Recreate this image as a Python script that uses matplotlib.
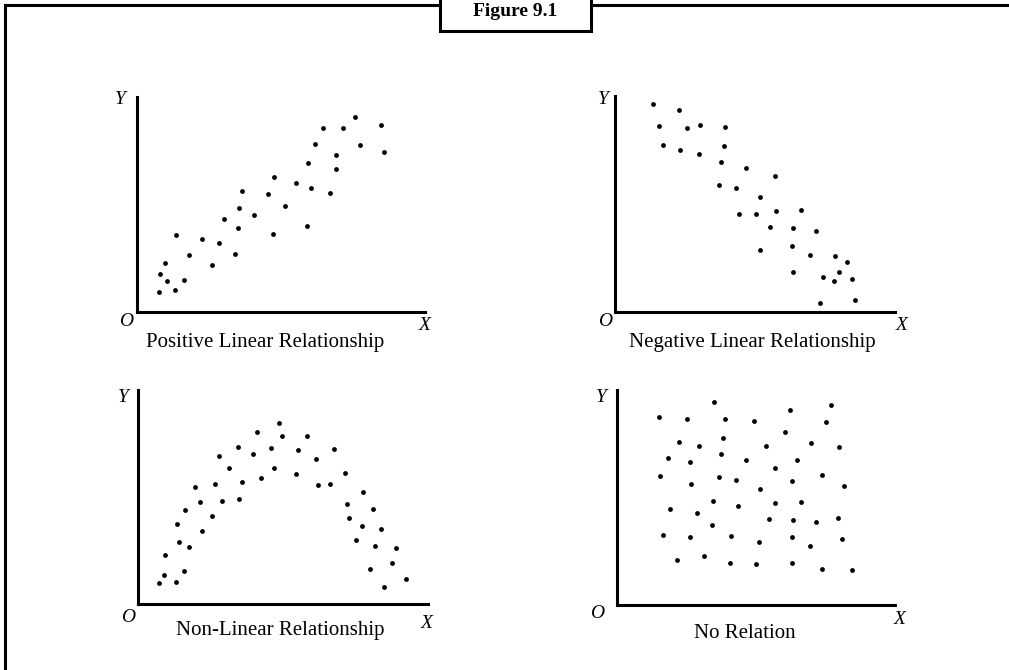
import matplotlib.pyplot as plt
from matplotlib.patches import Rectangle

# ---------------- data (units = px from each origin) ----------------
pos_x = [22.3, 38.7, 30.7, 23.0, 47.0, 28.7, 39.7, 52.7, 65.0, 75.7, 82.0, 87.3, 98.7, 101.3,
         102.3, 105.0, 117.7, 131.7, 136.3, 137.0, 148.7, 159.3, 170.7, 171.7, 174.7, 178.3,
         186.0, 193.7, 199.7, 199.7, 206.0, 218.7, 223.3, 244.3, 247.3]
pos_y = [20.3, 22.0, 31.3, 38.0, 32.7, 49.0, 77.7, 57.3, 73.3, 47.7, 69.7, 93.0, 58.3, 84.3,
         104.3, 121.7, 97.0, 118.7, 78.3, 135.3, 106.0, 129.7, 86.3, 149.3, 124.0, 168.3,
         184.0, 119.3, 143.7, 157.0, 184.0, 195.3, 167.7, 187.3, 160.3]

neg_x = [38.3, 64.3, 44.0, 71.7, 84.7, 109.7, 47.7, 64.7, 84.3, 108.7, 106.0, 131.0, 160.0,
         104.3, 121.0, 145.3, 123.7, 140.7, 160.7, 186.0, 154.7, 177.7, 200.7, 144.7, 177.3,
         195.0, 220.3, 232.0, 177.7, 207.7, 224.3, 219.3, 236.7, 205.0, 240.3]
neg_y = [208.0, 202.7, 186.7, 184.7, 187.3, 185.7, 167.3, 162.3, 158.3, 166.3, 150.0, 144.0,
         136.0, 127.3, 124.3, 115.0, 98.0, 98.3, 101.0, 102.7, 85.3, 84.7, 81.7, 62.7, 66.7,
         57.7, 56.0, 50.0, 40.7, 35.0, 40.0, 31.7, 33.7, 9.7, 12.7]

nonlin_x = [20.7, 25.3, 37.3, 45.3, 27.0, 40.7, 51.0, 38.7, 47.0, 63.3, 61.3, 56.7, 73.3, 83.3,
            76.3, 81.0, 90.7, 100.7, 103.3, 99.3, 115.0, 118.3, 122.3, 135.3, 133.0, 140.7,
            144.0, 157.7, 160.0, 169.0, 180.0, 178.0, 191.7, 196.0, 206.3, 208.3, 210.3, 218.0,
            223.7, 225.0, 234.7, 231.7, 236.3, 243.0, 245.7, 253.7, 257.3, 268.0]
nonlin_y = [21.0, 29.3, 22.3, 33.3, 49.7, 62.7, 57.7, 80.3, 94.0, 73.7, 102.0, 117.0, 88.3, 103.7,
            120.7, 148.3, 136.3, 105.0, 122.0, 157.3, 150.3, 172.3, 126.7, 136.0, 156.0, 181.0,
            168.3, 130.0, 154.0, 168.3, 119.0, 145.3, 120.0, 155.3, 131.3, 100.0, 86.3, 64.0,
            78.3, 112.3, 95.7, 35.7, 58.3, 75.3, 17.7, 41.7, 56.7, 25.0]

norel_x = [42.3, 70.3, 97.7, 108.0, 137.3, 173.3, 209.3, 214.3, 62.7, 82.3, 106.7, 104.0, 168.7,
           149.0, 194.7, 222.7, 51.3, 73.7, 129.0, 158.0, 180.3, 43.7, 74.0, 102.0, 119.3, 143.3,
           175.7, 205.3, 227.0, 53.3, 80.3, 96.7, 121.3, 158.7, 184.0, 95.7, 152.7, 176.3, 199.0,
           221.7, 46.0, 73.0, 114.3, 142.3, 175.3, 193.3, 225.7, 60.0, 87.7, 113.7, 139.0, 175.3,
           205.7, 235.0]
norel_y = [188.0, 185.7, 202.7, 186.3, 184.3, 195.0, 183.3, 200.3, 163.0, 159.3, 167.0, 150.7,
           173.0, 158.7, 162.3, 158.0, 147.0, 143.0, 145.0, 136.7, 145.0, 129.3, 121.0, 128.0,
           125.3, 115.7, 124.0, 130.3, 118.7, 96.0, 91.7, 104.3, 98.7, 101.7, 103.3, 80.0, 86.0,
           85.0, 82.7, 86.7, 70.0, 67.7, 69.3, 63.3, 68.0, 58.7, 66.3, 45.3, 49.3, 42.0, 40.7,
           41.7, 36.0, 34.7]

titles = ["Positive Linear Relationship", "Negative Linear Relationship",
          "Non-Linear Relationship", "No Relation"]

# ---------------- layout ----------------
W, H = 1009, 670
plt.rcParams["font.family"] = ["Liberation Serif", "DejaVu Serif"]

fig = plt.figure(figsize=(W / 100, H / 100), dpi=100)
fig.patch.set_facecolor("white")

# overlay in pixel coords for frame + labels
ov = fig.add_axes([0, 0, 1, 1])
ov.set_xlim(0, W)
ov.set_ylim(H, 0)
ov.axis("off")
ov.set_facecolor("none")

# panel boxes: left, right, top, bottom (px)
boxes = [(136.7, 425, 96.7, 312.3),
         (615, 895, 96, 312.3),
         (138.3, 428, 390, 604.3),
         (616.7, 895, 390, 605)]
series = [(pos_x, pos_y), (neg_x, neg_y), (nonlin_x, nonlin_y), (norel_x, norel_y)]

# label positions: Y, O, X, title
label_pos = [((120, 100), (126, 322), (425, 325), (265, 342)),
             ((603, 100), (605, 322), (902, 326), (752, 342)),
             ((123, 397), (128, 617), (427, 623), (280, 630)),
             ((601, 398), (597, 614), (900, 620), (745, 633))]

for (l, r, t, b), (xs, ys), lab, title in zip(boxes, series, label_pos, titles):
    ax = fig.add_axes([l / W, (H - b) / H, (r - l) / W, (b - t) / H])
    ax.set_facecolor("none")
    ax.set_xlim(0, r - l)
    ax.set_ylim(0, b - t)
    ax.scatter(xs, ys, s=12, color="black", linewidths=0)
    for side in ["top", "right"]:
        ax.spines[side].set_visible(False)
    for side in ["left", "bottom"]:
        ax.spines[side].set_linewidth(2.2)
    ax.set_xticks([])
    ax.set_yticks([])

    (yx, yy), (ox, oy), (xx, xy), (tx, ty) = lab
    ov.text(yx, yy, "Y", style="italic", fontsize=14, ha="center", va="center")
    ov.text(ox, oy, "O", style="italic", fontsize=14, ha="center", va="center")
    ov.text(xx, xy, "X", style="italic", fontsize=14, ha="center", va="center")
    ov.text(tx, ty, title, fontsize=15, ha="center", va="center")

# outer frame (top + left edges) and the tab
ov.plot([5, W], [5, 5], color="black", lw=2.2, solid_capstyle="projecting")
ov.plot([5, 5], [5, H], color="black", lw=2.2, solid_capstyle="projecting")
ov.add_patch(Rectangle((440, -10), 150.7, 40.7, facecolor="white",
                       edgecolor="black", lw=2.2, zorder=3))
ov.text(515, 3, "Figure 9.1", fontsize=14, fontweight="bold",
        ha="center", va="top", zorder=4)

fig.savefig("out.png", dpi=100)
